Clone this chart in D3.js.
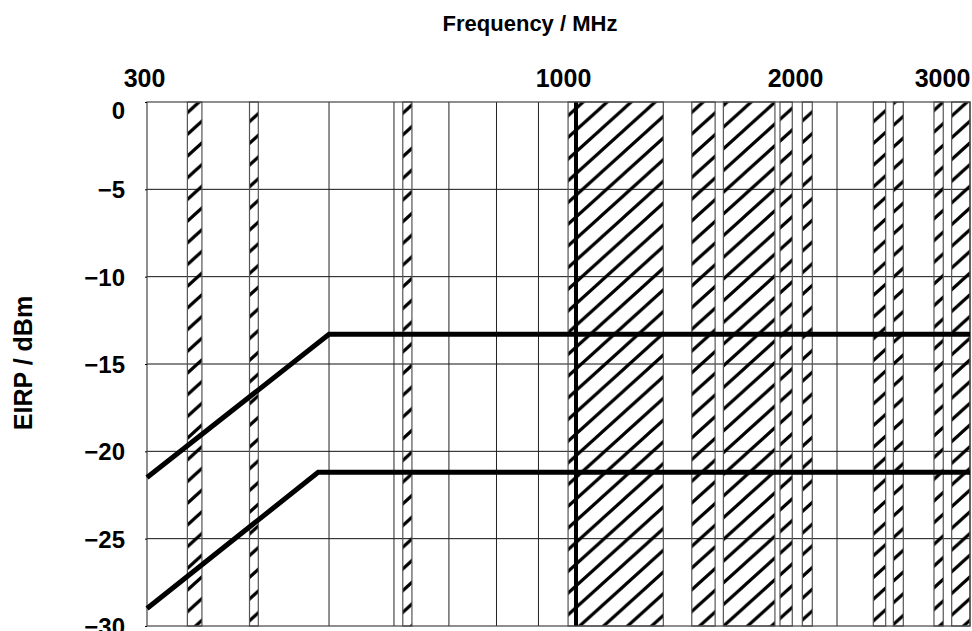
<!DOCTYPE html>
<html>
<head>
<meta charset="utf-8">
<script src="https://cdn.jsdelivr.net/npm/d3@7"></script>
<style>
    html, body { margin: 0; padding: 0; background: #fff; }
    svg { display: block; font-family: "Liberation Sans", Arial, Helvetica, sans-serif; font-weight: bold; }
</style>
</head>
<body>
<div id="chart"></div>
<script>
// frequency axis (MHz)
var freqTicks = [300, 1000, 2000, 3000];
var freqTickLabels = ['300', '1000', '2000', '3000'];
var freqGrid = [500, 600, 700, 800, 900, 2000];
var freqMark = [1000];

// EIRP axis (dBm)
var eirpTicks = [0, -5, -10, -15, -20, -25, -30];
var eirpTickLabels = ['0', '\u22125', '\u221210', '\u221215', '\u221220', '\u221225', '\u221230'];

// hatched bands (MHz)
var bandStart = [336, 400, 615, 978, 1360, 1479, 1719, 1824, 2234, 2375, 2688, 2837];
var bandEnd = [350, 410, 631, 1261, 1447, 1696, 1776, 1873, 2320, 2448, 2765, 3000];

// limit lines
var upperFreq = [300, 500, 3000];
var upperEirp = [-21.5, -13.3, -13.3];
var lowerFreq = [300, 485, 3000];
var lowerEirp = [-29.0, -21.2, -21.2];

(function (d3) {
    'use strict';

    var width = 972,
        height = 631,
        left = 147,
        right = 970,
        top = 102,
        bottom = 626;

    // nudges for the top labels, they are not centred on the grid in the original
    var labelShift = [-3, -13, -42, -28];

    var svg = d3.select('#chart')
        .append('svg')
        .attr('width', width)
        .attr('height', height);

    var x = d3.scaleLog()
            .domain([300, 1000, 2000, 3000])
            .range([left, 576, 837, right]),
        y = d3.scaleLinear()
            .domain([0, -30])
            .range([top, bottom]);

    /**
     * Hatch pattern for the bands
     */
    var hw = 24, hh = 21.7;
    svg.append('defs')
        .append('pattern')
        .attr('id', 'hatch')
        .attr('patternUnits', 'userSpaceOnUse')
        .attr('width', hw)
        .attr('height', hh)
        .append('path')
        .attr('d', 'M0,' + hh + 'L' + hw + ',0' +
            'M' + (-hw / 4) + ',' + (hh / 4) + 'L' + (hw / 4) + ',' + (-hh / 4) +
            'M' + (hw * 3 / 4) + ',' + (hh * 5 / 4) + 'L' + (hw * 5 / 4) + ',' + (hh * 3 / 4))
        .attr('stroke', '#000')
        .attr('stroke-width', 3.2)
        .attr('fill', 'none');

    // grid
    svg.append('g')
        .selectAll('line')
        .data(eirpTicks.slice(1, -1))
        .enter()
        .append('line')
        .attr('x1', left)
        .attr('x2', right)
        .attr('y1', function(d) { return y(d); })
        .attr('y2', function(d) { return y(d); })
        .attr('stroke', '#111')
        .attr('stroke-width', 1);

    svg.append('g')
        .selectAll('line')
        .data(freqGrid)
        .enter()
        .append('line')
        .attr('x1', function(d) { return x(d); })
        .attr('x2', function(d) { return x(d); })
        .attr('y1', top)
        .attr('y2', bottom)
        .attr('stroke', '#222')
        .attr('stroke-width', 1);

    // bands
    var bands = bandStart.map(function(s, i) {
        return {from: s, to: bandEnd[i]};
    });

    svg.append('g')
        .selectAll('rect')
        .data(bands)
        .enter()
        .append('rect')
        .attr('x', function(d) { return x(d.from); })
        .attr('width', function(d) { return x(d.to) - x(d.from); })
        .attr('y', top)
        .attr('height', bottom - top)
        .attr('fill', 'url(#hatch)')
        .attr('stroke', '#555')
        .attr('stroke-width', 1.2);

    svg.append('g')
        .selectAll('line')
        .data(freqMark)
        .enter()
        .append('line')
        .attr('x1', function(d) { return x(d); })
        .attr('x2', function(d) { return x(d); })
        .attr('y1', top)
        .attr('y2', bottom)
        .attr('stroke', '#000')
        .attr('stroke-width', 4);

    // frame
    svg.append('rect')
        .attr('x', left)
        .attr('y', top)
        .attr('width', right - left)
        .attr('height', bottom - top)
        .attr('fill', 'none')
        .attr('stroke', '#444')
        .attr('stroke-width', 1.2);

    // limit lines
    var line = d3.line()
        .x(function(d) { return x(d.f); })
        .y(function(d) { return y(d.p); });

    var limits = [
        upperFreq.map(function(f, i) { return {f: f, p: upperEirp[i]}; }),
        lowerFreq.map(function(f, i) { return {f: f, p: lowerEirp[i]}; })
    ];

    svg.append('g')
        .selectAll('path')
        .data(limits)
        .enter()
        .append('path')
        .attr('d', line)
        .attr('fill', 'none')
        .attr('stroke', '#000')
        .attr('stroke-width', 5)
        .attr('stroke-linejoin', 'miter');

    // axes
    var xAxis = d3.axisTop(x)
        .tickValues(freqTicks)
        .tickSize(0)
        .tickPadding(0)
        .tickFormat(function(d, i) { return freqTickLabels[i]; });

    var gx = svg.append('g')
        .attr('transform', 'translate(0,87)')
        .call(xAxis);
    gx.select('.domain').remove();
    gx.selectAll('text')
        .attr('dx', function(d, i) { return labelShift[i]; })
        .attr('y', 0)
        .attr('dy', 0)
        .style('font-size', '25px')
        .style('font-weight', 'bold')
        .style('font-family', '"Liberation Sans", Arial, sans-serif')
        .attr('fill', '#000');

    var yAxis = d3.axisLeft(y)
        .tickValues(eirpTicks)
        .tickSize(2)
        .tickPadding(20)
        .tickFormat(function(d, i) { return eirpTickLabels[i]; });

    var gy = svg.append('g')
        .attr('transform', 'translate(' + left + ',0)')
        .call(yAxis);
    gy.select('.domain').remove();
    gy.selectAll('line').attr('stroke', '#000');
    gy.selectAll('text')
        .attr('dy', function(d) { return d === 0 ? '0.7em' : '0.36em'; })
        .style('font-size', '24px')
        .style('font-weight', 'bold')
        .style('font-family', '"Liberation Sans", Arial, sans-serif')
        .attr('fill', '#000');

    // titles
    svg.append('text')
        .attr('x', 530)
        .attr('y', 31)
        .attr('text-anchor', 'middle')
        .style('font-size', '22px')
        .text('Frequency / MHz');

    svg.append('text')
        .attr('transform', 'translate(32,363) rotate(-90)')
        .attr('text-anchor', 'middle')
        .style('font-size', '25px')
        .text('EIRP / dBm');

})(d3);
</script>
</body>
</html>
